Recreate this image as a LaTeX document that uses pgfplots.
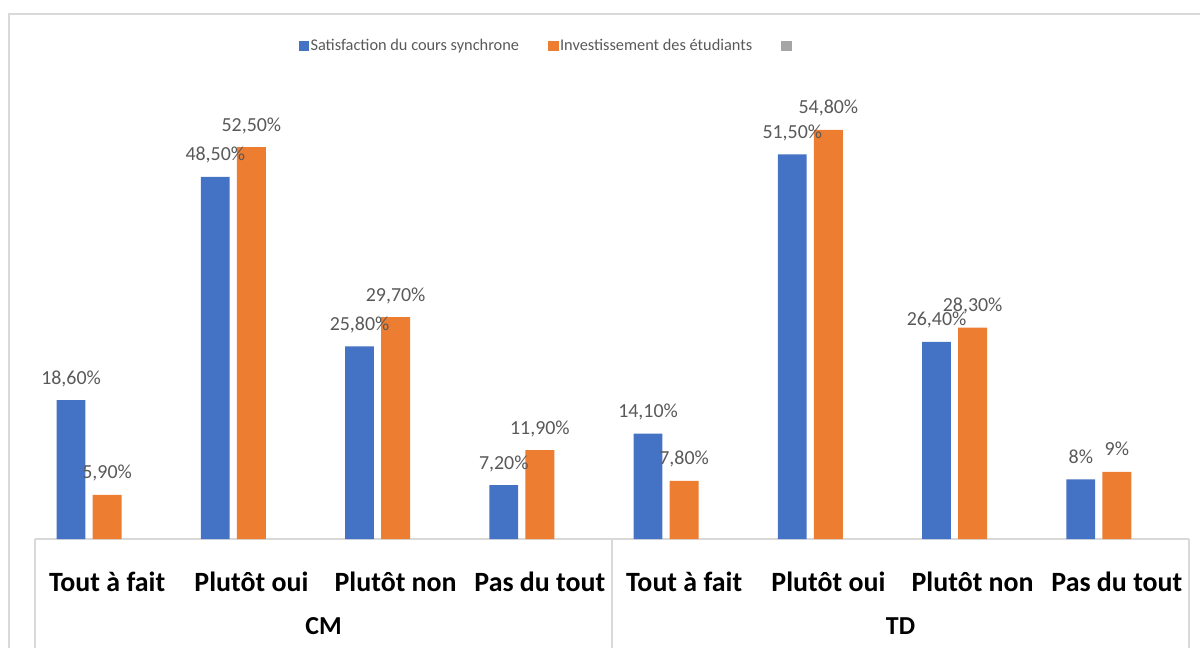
\documentclass[border=0pt]{standalone}
\usepackage{pgfplots}
\pgfplotsset{compat=1.18}
\usepackage{fontspec}
\setmainfont{Carlito}
\definecolor{cblue}{HTML}{4472C4}
\definecolor{corange}{HTML}{ED7D31}
\definecolor{cgray}{HTML}{A5A5A5}
\definecolor{ctext}{HTML}{595959}
\definecolor{cline}{HTML}{D9D9D9}
\begin{document}
\begin{tikzpicture}
\begin{axis}[
  at={(17.5bp,54.5bp)}, anchor=south west,
  scale only axis, width=577bp, height=224bp,
  xmin=-0.5, xmax=7.5, ymin=0, ymax=60,
  hide y axis,
  axis x line*=bottom,
  x axis line style={draw=cline, line width=0.7bp, -},
  xtick={0,...,7},
  xticklabels={Tout à fait, Plutôt oui, Plutôt non, Pas du tout, Tout à fait, Plutôt oui, Plutôt non, Pas du tout},
  xtick style={draw=none},
  xticklabel style={anchor=base, yshift=-22bp, font=\fontsize{14}{16}\selectfont\bfseries, text=black, inner sep=0pt},
  ybar, bar width=0.2,
  clip=false,
  point meta=explicit symbolic,
  nodes near coords,
  every node near coord/.append style={anchor=base, inner sep=0pt, yshift=8bp, font=\fontsize{10}{12}\selectfont, text=ctext},
  legend columns=3,
  legend image code/.code={\fill[#1] (0bp,-2.6bp) rectangle (5.2bp,2.6bp);},
  legend style={at={(0.228,1.1)}, anchor=west, draw=none, fill=none, inner sep=0pt, column sep=0.8bp,
    nodes={inner sep=0pt, text=ctext, font=\fontsize{8.2}{9.8}\selectfont},
    /tikz/every even column/.append style={column sep=14.5bp}},
]
\addplot[fill=cblue, draw=none, bar shift=-0.25] coordinates {
  (0,18.6) [18,60\%]
  (1,48.5) [48,50\%]
  (2,25.8) [25,80\%]
  (3,7.2)  [7,20\%]
  (4,14.1) [14,10\%]
  (5,51.5) [51,50\%]
  (6,26.4) [26,40\%]
  (7,8)    [8\%]
};
\addlegendentry{Satisfaction du cours synchrone}
\addplot[fill=corange, draw=none, bar shift=0] coordinates {
  (0,5.9)  [5,90\%]
  (1,52.5) [52,50\%]
  (2,29.7) [29,70\%]
  (3,11.9) [11,90\%]
  (4,7.8)  [7,80\%]
  (5,54.8) [54,80\%]
  (6,28.3) [28,30\%]
  (7,9)    [9\%]
};
\addlegendentry{Investissement des étudiants}
\addlegendimage{fill=cgray, draw=none}
\addlegendentry{}
\coordinate (s1) at (axis cs:-0.5,0);
\coordinate (s2) at (axis cs:3.5,0);
\coordinate (s3) at (axis cs:7.5,0);
\coordinate (g1) at (axis cs:1.5,0);
\coordinate (g2) at (axis cs:5.5,0);
\end{axis}
\draw[cline, line width=0.7bp] (s1) -- ([yshift=-60bp]s1);
\draw[cline, line width=0.7bp] (s2) -- ([yshift=-60bp]s2);
\draw[cline, line width=0.7bp] (s3) -- ([yshift=-60bp]s3);
\node[anchor=base, yshift=-47.5bp, font=\fontsize{13}{15}\selectfont\bfseries] at (g1) {CM};
\node[anchor=base, yshift=-47.5bp, font=\fontsize{13}{15}\selectfont\bfseries] at (g2) {TD};
\draw[cline, line width=1bp] (4.5bp,-10bp) -- (4.5bp,317bp) -- (610bp,317bp);
\pgfresetboundingbox
\path[use as bounding box] (0,0) rectangle (600bp,324bp);
\end{tikzpicture}
\end{document}
